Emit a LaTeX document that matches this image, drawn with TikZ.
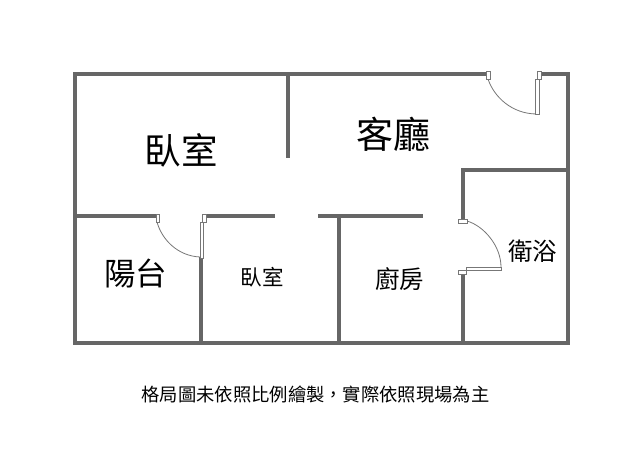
\documentclass[tikz,border=0pt]{standalone}
\usepackage{fontspec}
\setmainfont{Noto Sans CJK TC}
\definecolor{wallc}{HTML}{666666}
\definecolor{doorc}{HTML}{777777}
\tikzset{
  wall/.style={draw=wallc,line width=4pt},
  jamb/.style={draw=doorc,fill=white,line width=0.8pt},
  swing/.style={draw=doorc,line width=0.8pt},
  lbl/.style={inner sep=0pt,text=black},
}
\newcommand{\fs}[1]{\fontsize{#1pt}{#1pt}\selectfont}
\begin{document}
\begin{tikzpicture}[x=1pt,y=-1pt]
\useasboundingbox (0,0) rectangle (638,460);
\fill[white] (0,0) rectangle (638,460);
% walls
\draw[wall,line cap=butt] (487,74) -- (75,74) -- (75,343) -- (568,343) -- (568,74) -- (540,74);
\draw[wall] (288,74) -- (288,158);
\draw[wall] (75,216) -- (157,216);
\draw[wall] (205,216) -- (275,216);
\draw[wall] (318,216) -- (423,216);
\draw[wall] (201,257) -- (201,343);
\draw[wall] (339,216) -- (339,343);
\draw[wall] (463,220) -- (463,170) -- (568,170);
\draw[wall] (463,272) -- (463,343);
% door, top
\draw[swing] (488,79) .. controls (494,97) and (512,114) .. (537,114);
\draw[jamb] (535.5,79) rectangle (539,114);
\draw[jamb] (486.5,71.5) rectangle (490,79);
\draw[jamb] (537.5,71.5) rectangle (541,79);
% door, balcony
\draw[swing] (157,222) .. controls (162,240) and (178,256) .. (200,257);
\draw[jamb] (200,222) rectangle (203,258);
\draw[jamb] (156,214) rectangle (159.5,222);
\draw[jamb] (202.5,214) rectangle (206,222);
% door, bathroom
\draw[swing] (467,221) .. controls (484,226) and (501,246) .. (501,267);
\draw[jamb] (466,267) rectangle (501.5,270.5);
\draw[jamb] (458.5,219) rectangle (467,223);
\draw[jamb] (458.5,270) rectangle (466.5,274);
% labels
\node[lbl] (bed1) at (181,150) {\fs{36.5}臥室};
\node[lbl] (living) at (393.5,134) {\fs{37}客廳};
\node[lbl] (balcony) at (135.5,273) {\fs{31.5}陽台};
\node[lbl] (bed2) at (262,277) {\fs{21.5}臥室};
\node[lbl] (kitchen) at (399.5,279) {\fs{24.5}廚房};
\node[lbl] (bath) at (532.5,251) {\fs{24.5}衛浴};
\node[lbl] (note) at (315.5,394) {\fs{18.3}格局圖未依照比例繪製，實際依照現場為主};
\end{tikzpicture}
\end{document}
